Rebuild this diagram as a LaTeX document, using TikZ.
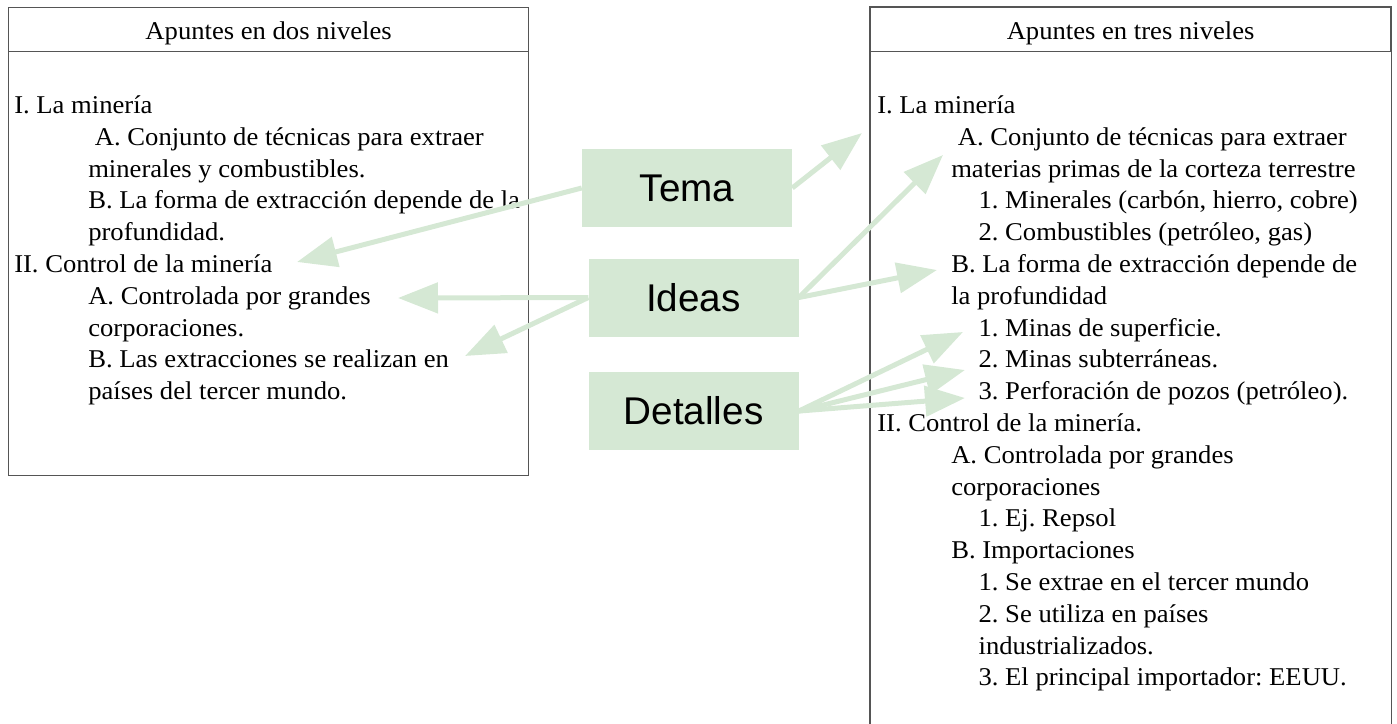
\documentclass[tikz,border=0pt]{standalone}
\usepackage{fontspec}
\setmainfont[FakeStretch=1.04]{Liberation Serif}
\newfontfamily\tagfont{Liberation Sans}
\usetikzlibrary{arrows.meta, positioning, calc}
\definecolor{tagfill}{HTML}{D5E8D4}
\definecolor{framegray}{HTML}{555555}
\newcommand{\lvlA}{\hspace*{55.5pt}}
\newcommand{\lvlB}{\hspace*{76pt}}
\frenchspacing
\tikzset{
  panel/.style={
    rectangle, inner sep=0pt,
    minimum width=390pt,
    draw=framegray, line width=0.9pt,
  },
  header/.style={
    rectangle, inner sep=0pt,
    minimum width=390pt, minimum height=33pt,
    text height=19pt, text depth=4pt,
    draw=framegray, line width=0.9pt,
    font=\fontsize{19.2pt}{23.85pt}\selectfont,
  },
  notes/.style={
    align=left, inner sep=0pt, anchor=north west,
    font=\fontsize{19.2pt}{23.85pt}\selectfont,
  },
  tag/.style={
    rectangle, fill=tagfill,
    minimum width=157.5pt, minimum height=58.5pt,
    font=\tagfont\fontsize{29pt}{34pt}\selectfont,
  },
  arrow/.style={-{Triangle[length=30pt, width=22.5pt]}, line width=3.75pt, color=tagfill},
}

\begin{document}
\begin{tikzpicture}[x=0.75pt, y=-0.75pt]
  \useasboundingbox (0,0) rectangle (1397,724);

  % left panel
  \node[panel, minimum height=351pt, anchor=north west] (dos) at (8,7) {};
  \node[header, anchor=north] (doshead) at (dos.north) {Apuntes en dos niveles};
  \node[notes] (dosnotes) at (14,91) {\strut I. La minería\\
    \lvlA\ A. Conjunto de técnicas para extraer\\
    \lvlA minerales y combustibles.\\
    \lvlA B. La forma de extracción depende de la\\
    \lvlA profundidad.\\
    II. Control de la minería\\
    \lvlA A. Controlada por grandes\\
    \lvlA corporaciones.\\
    \lvlA B. Las extracciones se realizan en\\
    \lvlA países del tercer mundo.};

  % right panel (runs off the bottom)
  \node[panel, draw=none, minimum height=537.75pt, anchor=north west] (tres) at (870,7) {};
  \draw[framegray, line width=0.9pt] (tres.south west) |- (tres.north east) -- (tres.south east);
  \node[header, anchor=north] (treshead) at (tres.north) {Apuntes en tres niveles};
  \node[notes] (tresnotes) at (877,91) {\strut I. La minería\\
    \lvlA\ A. Conjunto de técnicas para extraer\\
    \lvlA materias primas de la corteza terrestre\\
    \lvlB 1. Minerales (carbón, hierro, cobre)\\
    \lvlB 2. Combustibles (petróleo, gas)\\
    \lvlA B. La forma de extracción depende de\\
    \lvlA la profundidad\\
    \lvlB 1. Minas de superficie.\\
    \lvlB 2. Minas subterráneas.\\
    \lvlB 3. Perforación de pozos (petróleo).\\
    II. Control de la minería.\\
    \lvlA A. Controlada por grandes\\
    \lvlA corporaciones\\
    \lvlB 1. Ej. Repsol\\
    \lvlA B. Importaciones\\
    \lvlB 1. Se extrae en el tercer mundo\\
    \lvlB 2. Se utiliza en países\\
    \lvlB industrializados.\\
    \lvlB 3. El principal importador: EEUU.};

  % tags
  \node[tag] (tema) at (687,188) {Tema};
  \node[tag, below=23.25pt of tema, xshift=4.9pt] (ideas) {Ideas};
  \node[tag, below=26.25pt of ideas] (detalles) {Detalles};

  % arrow tips
  \coordinate (dos-ii) at (297,262);
  \coordinate (dos-iia) at (398,298);
  \coordinate (dos-iib) at (465,356);
  \coordinate (tres-i) at (862,133);
  \coordinate (tres-ia) at (943,155);
  \coordinate (tres-ib) at (937,270);
  \coordinate (tres-ib1) at (963,332);
  \coordinate (tres-ib2) at (965,370);
  \coordinate (tres-ib3) at (965,398);

  \draw[arrow] (tema.west) -- (dos-ii);
  \draw[arrow] (ideas.west) -- (dos-iia);
  \draw[arrow] (ideas.west) -- (dos-iib);
  \draw[arrow] (tema.east) -- (tres-i);
  \draw[arrow] (ideas.east) -- (tres-ia);
  \draw[arrow] (ideas.east) -- (tres-ib);
  \draw[arrow] (detalles.east) -- (tres-ib1);
  \draw[arrow] (detalles.east) -- (tres-ib2);
  \draw[arrow] (detalles.east) -- (tres-ib3);

\end{tikzpicture}
\end{document}
